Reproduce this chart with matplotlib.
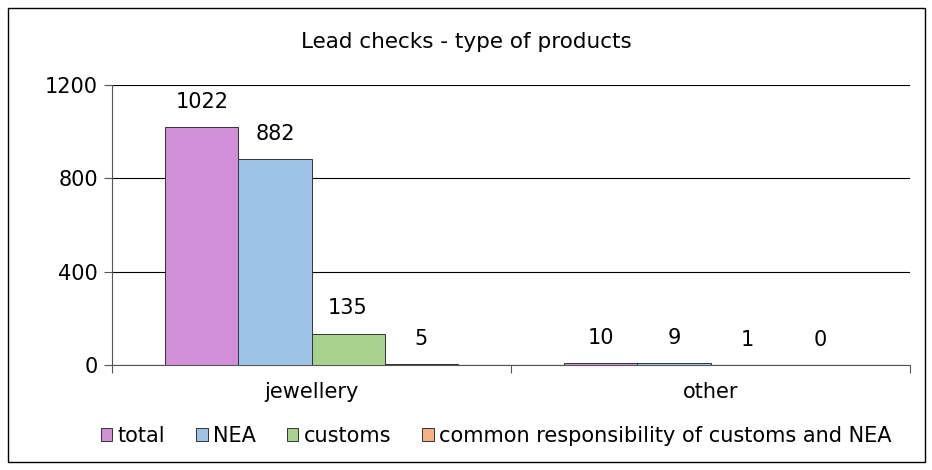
import numpy as np
import matplotlib.pyplot as plt
from matplotlib.patches import Rectangle

categories = ['jewellery', 'other']
series = ['total', 'NEA', 'customs', 'common responsibility of customs and NEA']
values = [
    [1022, 10],
    [882, 9],
    [135, 1],
    [5, 0],
]
colors = ['#d08fd6', '#9dc3e6', '#a9d18e', '#f4b183']
yticks = [0, 400, 800, 1200]


def main():
    fig = plt.figure(figsize=(9.32, 4.70), dpi=100)
    fig.patches.append(Rectangle((8 / 932, 8 / 470), 917 / 932, 454 / 470,
                                 transform=fig.transFigure, fill=False,
                                 edgecolor='black', linewidth=1.0))
    ax = fig.add_axes([112 / 932, 1 - 365 / 470, (910 - 112) / 932, 280 / 470])

    x = np.arange(len(categories))
    w = 0.183
    for i, (name, vals) in enumerate(zip(series, values)):
        pos = x + (i - 1.5) * w
        ax.bar(pos, vals, w, color=colors[i], edgecolor='#333333', linewidth=0.7,
               label=name, zorder=3)
        for p, v in zip(pos, vals):
            ax.annotate(str(v), (p, v), xytext=(0, 18), textcoords='offset points',
                        ha='center', va='center', fontsize=15)

    ax.set_xlim(-0.5, 1.5)
    ax.set_ylim(0, 1200)
    ax.set_yticks(yticks)
    ax.yaxis.grid(True, color='black', linewidth=0.8, zorder=0)
    ax.set_axisbelow(True)
    ax.set_xticks([-0.5, 0.5, 1.5])
    ax.set_xticklabels([])
    ax.set_xticks(x, minor=True)
    ax.set_xticklabels(categories, minor=True, fontsize=15)
    ax.tick_params(axis='x', which='minor', length=0, pad=12)
    ax.tick_params(axis='x', which='major', length=6, direction='out', color='#555555')
    ax.tick_params(axis='y', length=6, labelsize=15, pad=4, color='#555555')
    for s in ['top', 'right']:
        ax.spines[s].set_visible(False)
    ax.spines['left'].set_color('#555555')
    ax.spines['bottom'].set_color('#555555')

    fig.text(0.5, 1 - 42 / 470, 'Lead checks - type of products', ha='center',
             va='center', fontsize=15.5)
    fig.legend(loc='center', bbox_to_anchor=(496 / 932, 1 - 436 / 470), ncol=4,
               frameon=False, fontsize=15, handlelength=0.55, handleheight=0.55,
               handletextpad=0.25, columnspacing=1.5)

    fig.savefig('out.png', dpi=100)


main()
